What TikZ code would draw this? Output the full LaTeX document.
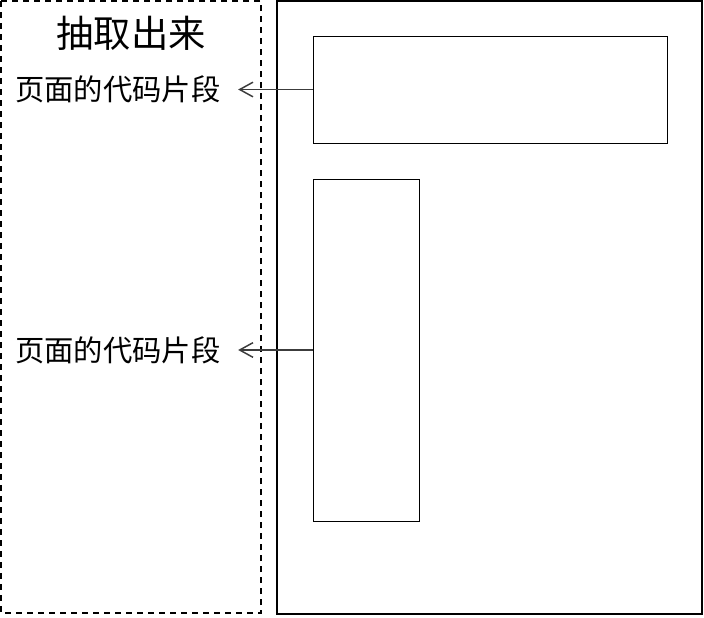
\documentclass[tikz,border=0pt]{standalone}
\usepackage{fontspec}
\newfontfamily\cjk{Noto Sans CJK SC}
\usetikzlibrary{arrows.meta}
\tikzset{every picture/.style={line width=0.75pt}}
\tikzset{
  block/.style={draw, inner sep=0pt, line width=0.75pt},
  snippet/.style={inner sep=0.75pt, font=\cjk\fontsize{22}{26}\selectfont},
  pullarrow/.style={draw={rgb, 255:red, 60; green, 60; blue, 60}, line width=1pt, -{Straight Barb[length=10pt,width=11pt,line width=1.1pt]}, shorten >=12pt}
}

\begin{document}
\begin{tikzpicture}[x=0.75pt,y=0.75pt,yscale=-1,xscale=1]
\useasboundingbox (0,0) rectangle (704,618);

%Shape: Rectangle [id:extracted]
\draw [line width=1.4pt, dash pattern={on 4.5pt off 3.75pt}] (1,1) rectangle (261,613);
%Shape: Rectangle [id:page]
\draw [line width=1.3pt] (277,1) rectangle (702,614);

%Shape: Rectangle [id:header]
\node [block, minimum width=265.5pt, minimum height=80.25pt] (header) at (490,89.5) {};
%Shape: Rectangle [id:sidebar]
\node [block, minimum width=79.5pt, minimum height=256.5pt] (sidebar) at (366,350) {};

% Text Node
\node [inner sep=0.75pt, font=\cjk\fontsize{28}{32}\selectfont] (title) at (131,33) {抽取出来};
% Text Node
\node [snippet] (snipA) at (118,89.5) {页面的代码片段};
% Text Node
\node [snippet] (snipB) at (118,350) {页面的代码片段};

%Straight Lines
\draw [pullarrow] (header.west) -- (snipA.east);
\draw [pullarrow] (sidebar.west) -- (snipB.east);

\end{tikzpicture}
\end{document}
